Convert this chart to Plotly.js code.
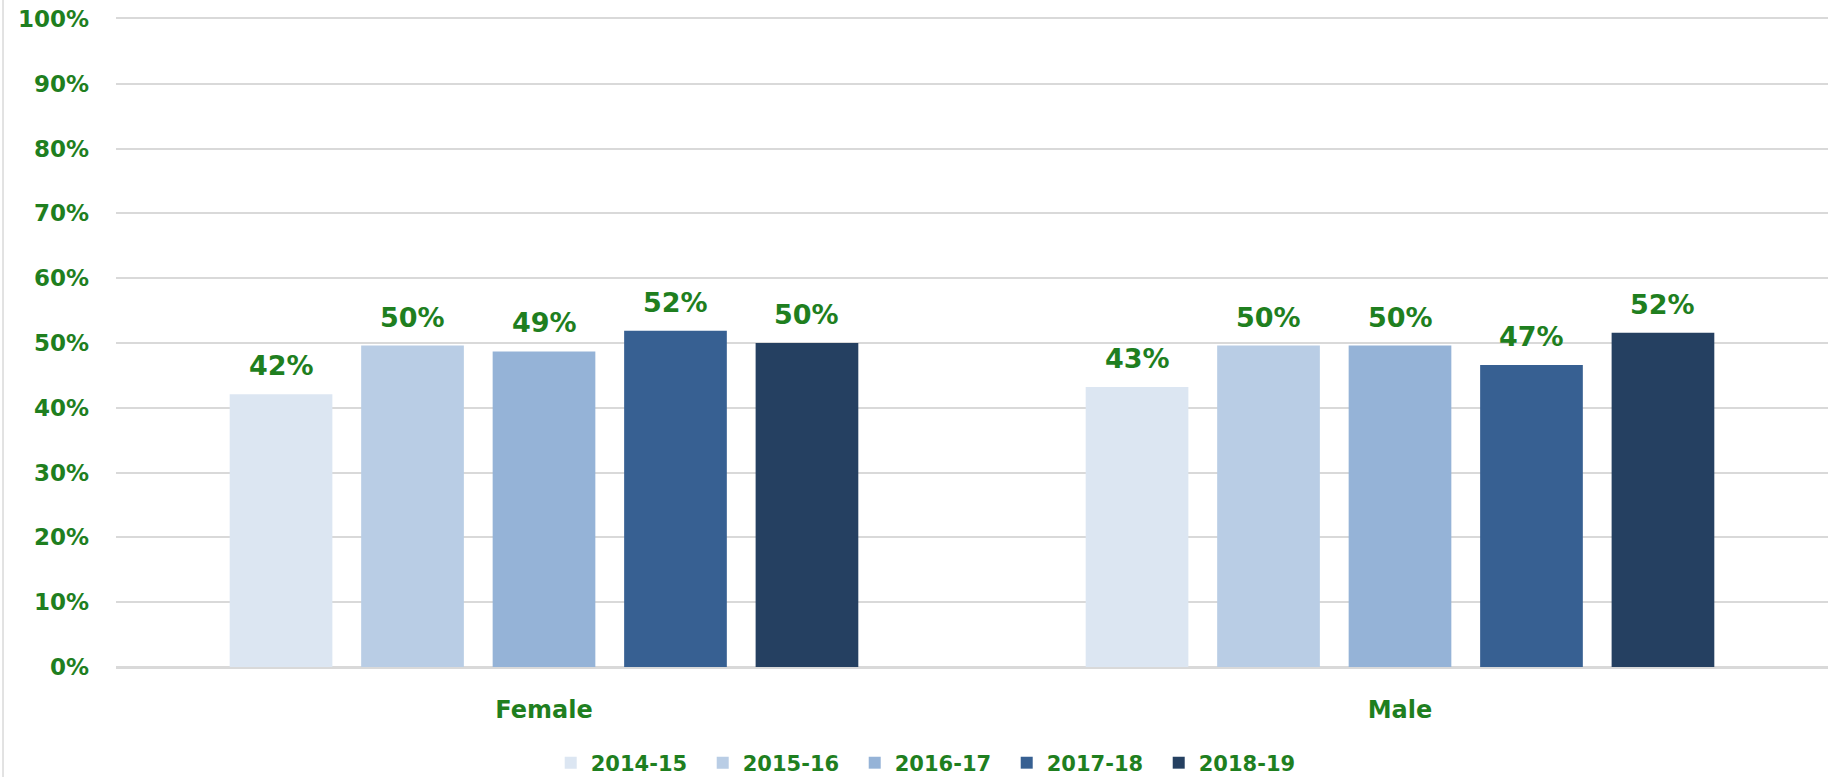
<!DOCTYPE html>
<html>
<head>
<meta charset="utf-8">
<script src="https://cdn.plot.ly/plotly-3.0.1.min.js"></script>
<style>
  html, body { margin: 0; padding: 0; background: #fff; }
  #chart { width: 1843px; height: 777px; }
</style>
</head>
<body>
<div id="chart"></div>
<script>
// categories and series
const genders = ['Female', 'Male'];
const years = ['2014-15', '2015-16', '2016-17', '2017-18', '2018-19'];
const share2014 = [0.421, 0.432];
const share2015 = [0.496, 0.496];
const share2016 = [0.487, 0.496];
const share2017 = [0.519, 0.466];
const share2018 = [0.500, 0.516];
const yearColors = ['#dce6f2', '#b9cde5', '#95b3d7', '#376092', '#254061'];

const green = '#1f7f1f';
const labelFont = { family: 'DejaVu Sans', size: 27, color: green, weight: 'bold' };

document.addEventListener('DOMContentLoaded', function () {
    const series = [share2014, share2015, share2016, share2017, share2018];

    // bar group geometry (same as plotly's grouping below)
    const bargap = 0.232;
    const slot = (1 - bargap) / years.length;

    const traces = [];
    const annotations = [];
    series.forEach(function (vals, i) {
        traces.push({
            type: 'bar',
            name: years[i],
            x: genders,
            y: vals,
            marker: { color: yearColors[i] },
            hoverinfo: 'name+y'
        });
        // value labels above each bar
        vals.forEach(function (v, j) {
            annotations.push({
                xref: 'x', yref: 'y',
                x: j - (1 - bargap) / 2 + slot * (i + 0.5),
                y: v,
                text: Math.round(v * 100) + '%',
                showarrow: false,
                yanchor: 'bottom',
                yshift: 11,
                font: labelFont
            });
        });
    });

    const layout = {
        width: 1843,
        height: 777,
        margin: { l: 116, r: 15, t: 19, b: 110 },
        paper_bgcolor: '#fff',
        plot_bgcolor: '#fff',
        barmode: 'group',
        bargap: bargap,
        bargroupgap: 0.219,
        xaxis: {
            type: 'category',
            showgrid: false,
            // top line doubles as the 100% gridline
            showline: true,
            mirror: true,
            linecolor: '#d9d9d9',
            linewidth: 1.5,
            ticks: '',
            ticklabelstandoff: 20,
            tickfont: { family: 'DejaVu Sans', size: 24, color: green, weight: 'bold' }
        },
        yaxis: {
            range: [0, 1],
            dtick: 0.1,
            tickformat: '.0%',
            showgrid: true,
            gridcolor: '#d9d9d9',
            gridwidth: 1.5,
            zeroline: true,
            zerolinecolor: '#d9d9d9',
            zerolinewidth: 1.5,
            ticks: '',
            ticklabelstandoff: 26,
            tickfont: { family: 'DejaVu Sans', size: 23, color: green, weight: 'bold' }
        },
        legend: {
            orientation: 'h',
            xref: 'container', yref: 'container',
            x: 0.505, xanchor: 'center',
            y: 0.018, yanchor: 'middle',
            entrywidth: 107,
            entrywidthmode: 'pixels',
            font: { family: 'DejaVu Sans', size: 21, color: green, weight: 'bold' }
        },
        annotations: annotations,
        shapes: [{
            type: 'line', xref: 'paper', yref: 'paper',
            x0: -0.066, x1: -0.066, y0: -0.17, y1: 1.03,
            line: { color: '#d9d9d9', width: 1.5 }
        }],
        showlegend: true
    };

    Plotly.newPlot('chart', traces, layout, { displayModeBar: false, responsive: false });
});
</script>
</body>
</html>
